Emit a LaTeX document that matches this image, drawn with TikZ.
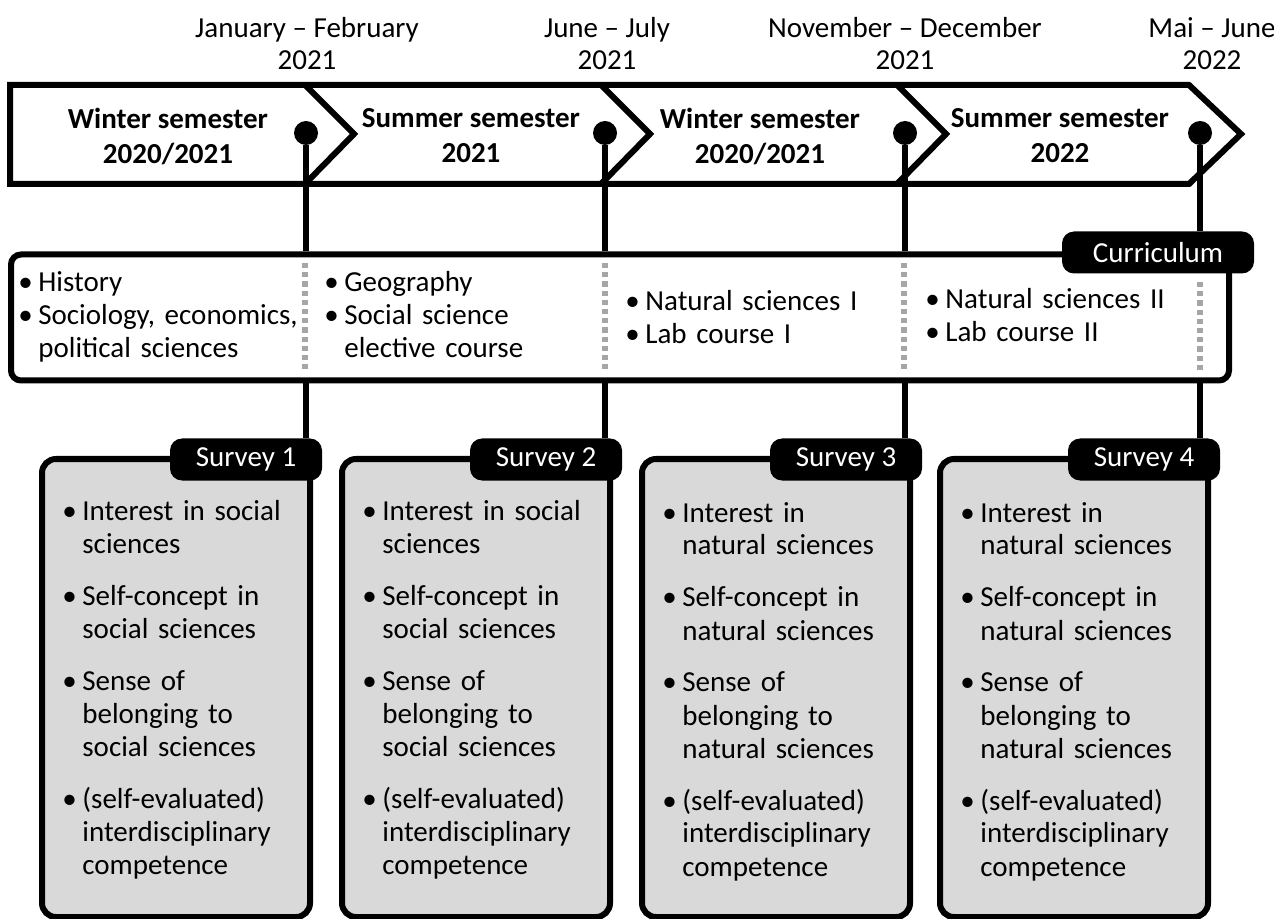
\documentclass[tikz,border=0pt]{standalone}
\usepackage{fontspec}
\setmainfont{Carlito}
\usepackage{tikz}
\usetikzlibrary{calc,positioning}
\definecolor{boxgray}{HTML}{D9D9D9}
\definecolor{dotgray}{HTML}{A6A6A6}
\tikzset{
    tab/.style={ % black title tab on a box
        fill=black,
        rounded corners=6pt,
        text=white,
        inner sep=0pt,
        minimum width=#1,
        minimum height=21pt,
        font=\fontsize{14.5}{16}\selectfont
    },
}
% bullet item with hanging indent
\newcommand{\bul}[1]{\hangindent=10pt\hangafter=1\noindent\makebox[10pt][l]{\textbullet}#1\par}
\newcommand{\nl}{\hfil\break}
\newcommand{\gap}{\vspace{9.5pt}}

\begin{document}
\begin{tikzpicture}[x=0.5pt,y=-0.5pt]
\useasboundingbox (0,0) rectangle (1274,919);
%% styles
\tikzstyle{dot}=[circle,fill=black,minimum size=12pt,inner sep=0pt]
\tikzstyle{vline}=[line width=2.6pt]
\tikzstyle{gdots}=[dotgray,line width=2.6pt,dash pattern=on 2.6pt off 2pt]
\tikzstyle{date}=[align=center,inner sep=0pt,font=\fontsize{14.5}{16}\selectfont]
\tikzstyle{sem}=[align=center,inner sep=0pt,font=\bfseries\fontsize{14.5}{17.5}\selectfont]
\tikzstyle{survbox}=[draw=black,line width=3pt,fill=boxgray,rounded corners=7pt,minimum width=134pt,minimum height=229pt,inner sep=0pt]
\tikzstyle{list}=[anchor=base west,inner sep=0pt,text width=160pt,font=\fontsize{14.5}{16.5}\selectfont\raggedright]
%%%%%%%%%%%%%%%%%%%%%%%%%%%%%%%%%%%%%%%%%%%%%%%%%%%%%%%%%%%%%%%%%%%%%%%%
%TIME LINE
\draw[line width=3pt,line join=miter] (10,85) -- (1189,85) -- (1241,134) -- (1189,184) -- (10,184) -- cycle;
\draw[line width=3pt,line join=miter] (305,85) -- (354,134) -- (305,184);
\draw[line width=3pt,line join=miter] (601,85) -- (650,134) -- (601,184);
\draw[line width=3pt,line join=miter] (897,85) -- (946,134) -- (897,184);
%dates
\node[date] (date1) at (307,44) {January – February\\2021};
\node[date] (date2) at (607,44) {June – July\\2021};
\node[date] (date3) at (905,44) {November – December\\2021};
\node[date] (date4) at (1212,44) {Mai – June\\2022};
%semesters
\node[sem] (sem1) at (168,136) {Winter semester\\2020/2021};
\node[sem] (sem2) at (471,136) {Summer semester\\2021};
\node[sem] (sem3) at (760,136) {Winter semester\\2020/2021};
\node[sem] (sem4) at (1060,136) {Summer semester\\2022};
%survey dots
\node[dot] (d1) at (306,133) {};
\node[dot] (d2) at (605,133) {};
\node[dot] (d3) at (905,133) {};
\node[dot] (d4) at (1200,133) {};

%%%%%%%%%%%%%%%%%%%%%%%%%%%%%%%%%%%%%%%%%%%%%%%%%%%%%%%%%%%%%%%%%%%%%%%%
%CURRICULUM
\node[draw=black,line width=3pt,fill=white,rounded corners=5pt,minimum width=609pt,minimum height=63pt,inner sep=0pt] (curr) at (620,317.5) {};
\node[tab=96pt] (ctab) at (1158,252.5) {Curriculum};
\draw[gdots] (305,263) -- (305,373);
\draw[gdots] (605,263) -- (605,373);
\draw[gdots] (904,263) -- (904,373);
\draw[gdots] (1200,282) -- (1200,373);
\node[list] (c1) at (18,292) {\bul{History}\bul{Sociology, economics,\nl political sciences}};
\node[list] (c2) at (324,292) {\bul{Geography}\bul{Social science\nl elective course}};
\node[list] (c3) at (625,311) {\bul{Natural sciences I}\bul{Lab course I}};
\node[list] (c4) at (925,309) {\bul{Natural sciences II}\bul{Lab course II}};

%%%%%%%%%%%%%%%%%%%%%%%%%%%%%%%%%%%%%%%%%%%%%%%%%%%%%%%%%%%%%%%%%%%%%%%%
%SURVEYS
\node[survbox] (box1) at (176,688) {};
\node[survbox] (box2) at (476,688) {};
\node[survbox] (box3) at (776,688) {};
\node[survbox] (box4) at (1074,688) {};
\node[tab=76pt] (t1) at (246,459.5) {Survey 1};
\node[tab=76pt] (t2) at (546,459.5) {Survey 2};
\node[tab=76pt] (t3) at (846,459.5) {Survey 3};
\node[tab=76pt] (t4) at (1144,459.5) {Survey 4};
\node[list] (s1) at (62,520) {\bul{Interest in social\nl sciences}\gap\bul{Self-concept in\nl social sciences}\gap\bul{Sense of\nl belonging to\nl social sciences}\gap\bul{(self-evaluated)\nl interdisciplinary\nl competence}};
\node[list] (s2) at (362,520) {\bul{Interest in social\nl sciences}\gap\bul{Self-concept in\nl social sciences}\gap\bul{Sense of\nl belonging to\nl social sciences}\gap\bul{(self-evaluated)\nl interdisciplinary\nl competence}};
\node[list] (s3) at (662,522) {\bul{Interest in\nl natural sciences}\gap\bul{Self-concept in\nl natural sciences}\gap\bul{Sense of\nl belonging to\nl natural sciences}\gap\bul{(self-evaluated)\nl interdisciplinary\nl competence}};
\node[list] (s4) at (960,522) {\bul{Interest in\nl natural sciences}\gap\bul{Self-concept in\nl natural sciences}\gap\bul{Sense of\nl belonging to\nl natural sciences}\gap\bul{(self-evaluated)\nl interdisciplinary\nl competence}};

%%%%%%%%%%%%%%%%%%%%%%%%%%%%%%%%%%%%%%%%%%%%%%%%%%%%%%%%%%%%%%%%%%%%%%%%
%LINES dot -> curriculum -> survey
\draw[vline] (d1) -- (d1 |- curr.north);
\draw[vline] (d2) -- (d2 |- curr.north);
\draw[vline] (d3) -- (d3 |- curr.north);
\draw[vline] (d4) -- (d4 |- ctab.north);
\draw[vline] (d1 |- curr.south) -- (d1 |- t1.north);
\draw[vline] (d2 |- curr.south) -- (d2 |- t2.north);
\draw[vline] (d3 |- curr.south) -- (d3 |- t3.north);
\draw[vline] (d4 |- curr.south) -- (d4 |- t4.north);
\end{tikzpicture}
\end{document}
